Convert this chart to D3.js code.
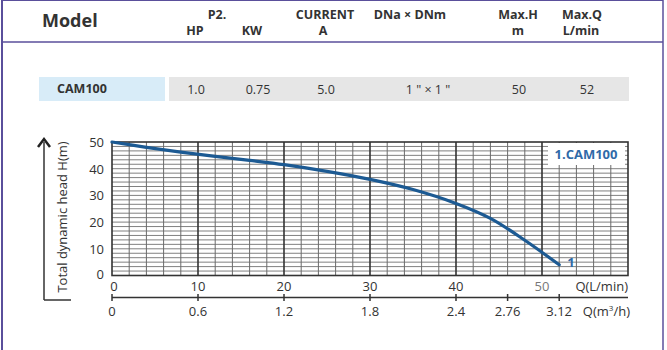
<!DOCTYPE html>
<html><head><meta charset="utf-8">
<script src="https://cdn.jsdelivr.net/npm/d3@7"></script>
<style>
html,body{margin:0;padding:0;background:#fff;}
svg{display:block;font-family:"Open Sans","Noto Sans",sans-serif;}
</style></head>
<body>
<svg id="c" width="667" height="350"></svg>
<script>
// ---- data ----
const headerTop = ["P2.", "CURRENT", "DNa × DNm", "Max.H", "Max.Q"];
const headerSub = ["HP", "KW", "A", "m", "L/min"];
const modelName = "CAM100";
const specValues = ["1.0", "0.75", "5.0", "1 \" × 1 \"", "50", "52"];
const flowLmin = [0, 4, 8, 12, 16, 20, 25, 30, 35, 40, 44, 48, 52];
const headM   = [50, 48.0, 46.2, 44.6, 43.1, 41.5, 39.0, 36.0, 32.2, 27.0, 21.4, 13.2, 4];
const xTicks = [0, 10, 20, 30, 40, 50];
const yTicks = [0, 10, 20, 30, 40, 50];
const m3hTicks = [0, 0.6, 1.2, 1.8, 2.4, 2.76, 3.12];
const seriesLabel = "1";
const legendLabel = "1.CAM100";

const svg = d3.select("#c");
const txt = "#333";
const frame = "#5a4f9b";

// frame borders
svg.append("line").attr("x1",2).attr("x2",2).attr("y1",0).attr("y2",350).attr("stroke",frame).attr("stroke-width",2);
svg.append("line").attr("x1",663).attr("x2",663).attr("y1",0).attr("y2",350).attr("stroke",frame).attr("stroke-width",1.5);
svg.append("line").attr("x1",2).attr("x2",663).attr("y1",0.5).attr("y2",0.5).attr("stroke",frame).attr("stroke-width",1);
svg.append("line").attr("x1",2).attr("x2",663).attr("y1",42).attr("y2",42).attr("stroke",frame).attr("stroke-width",1.5);

// header
svg.append("text").attr("x",42).attr("y",27).attr("font-size",18).attr("font-weight",700).attr("fill",txt).text("Model");
const topX = [217, 325, 410, 518, 582];
const subX = [195, 252, 323, 518, 581];
headerTop.forEach((t,i)=>svg.append("text").attr("x",topX[i]).attr("y",19).attr("text-anchor","middle")
  .attr("font-size",12.5).attr("font-weight",700).attr("fill",txt).text(t));
headerSub.forEach((t,i)=>svg.append("text").attr("x",subX[i]).attr("y",35).attr("text-anchor","middle")
  .attr("font-size",12.5).attr("font-weight",700).attr("fill",txt).text(t));

// spec row
svg.append("rect").attr("x",39).attr("y",77).attr("width",126).attr("height",24).attr("fill","#d8ecf8");
svg.append("rect").attr("x",169).attr("y",77).attr("width",460).attr("height",24).attr("fill","#e6e6e6");
svg.append("text").attr("x",57).attr("y",93).attr("font-size",12.5).attr("font-weight",700).attr("fill",txt).text(modelName);
const valX = [196, 258, 326, 428, 519, 587];
specValues.forEach((t,i)=>svg.append("text").attr("x",valX[i]).attr("y",94).attr("text-anchor","middle")
  .attr("font-size",12.5).attr("fill",txt).text(t));

// chart
const x = d3.scaleLinear().domain([0,60]).range([112,628]);
const y = d3.scaleLinear().domain([0,50]).range([275.5,142]);

const g = svg.append("g");
// horizontal grid
d3.range(1,30).forEach(i=>{
  const v = i*50/30;
  g.append("line").attr("x1",x(0)).attr("x2",x(60)).attr("y1",y(v)).attr("y2",y(v))
    .attr("stroke","#808080").attr("stroke-width",1);
});
// vertical grid
d3.range(2,60,2).forEach(v=>{
  const major = v%10===0;
  g.append("line").attr("x1",x(v)).attr("x2",x(v)).attr("y1",y(50)).attr("y2",y(0))
    .attr("stroke",major?"#333":"#6a6a6a").attr("stroke-width",major?1.6:1);
});
g.append("rect").attr("x",x(0)).attr("y",y(50)).attr("width",x(60)-x(0)).attr("height",y(0)-y(50))
  .attr("fill","none").attr("stroke","#333").attr("stroke-width",1.6);

// legend box
svg.append("rect").attr("x",548).attr("y",143).attr("width",77).attr("height",22).attr("fill","#fff");
svg.append("text").attr("x",586).attr("y",159).attr("text-anchor","middle").attr("font-size",13)
  .attr("font-weight",700).attr("fill","#2f6aa8").text(legendLabel);

// curve
const line = d3.line().x((d,i)=>x(flowLmin[i])).y(d=>y(d)).curve(d3.curveCatmullRom);
svg.append("path").attr("d",line(headM)).attr("fill","none").attr("stroke","#1c5a93").attr("stroke-width",3.2)
  .attr("stroke-linecap","round");
svg.append("text").attr("x",x(flowLmin[flowLmin.length-1])+8).attr("y",y(headM[headM.length-1])+2)
  .attr("font-size",13).attr("font-weight",700).attr("fill","#2f6aa8").text(seriesLabel);

// y ticks
yTicks.forEach(v=>{
  svg.append("text").attr("x",104).attr("y",v===0?y(v)+3:y(v)+5).attr("text-anchor","end")
    .attr("font-size",13).attr("fill",txt).text(v);
});
// x ticks L/min
xTicks.forEach(v=>{
  svg.append("text").attr("x",x(v)+(v===0?2:0)).attr("y",291).attr("text-anchor","middle")
    .attr("font-size",13).attr("fill",v===50?"#777":txt).text(v);
});
svg.append("text").attr("x",628).attr("y",291).attr("text-anchor","end").attr("font-size",13).attr("fill",txt).text("Q(L/min)");

// m3/h axis
const x2 = d3.scaleLinear().domain([0,3.6]).range([112,628]);
svg.append("line").attr("x1",112).attr("x2",628).attr("y1",297.5).attr("y2",297.5).attr("stroke","#333").attr("stroke-width",1.5);
m3hTicks.forEach(v=>{
  svg.append("line").attr("x1",x2(v)).attr("x2",x2(v)).attr("y1",294).attr("y2",301).attr("stroke","#333").attr("stroke-width",1.5);
  svg.append("text").attr("x",x2(v)).attr("y",316).attr("text-anchor","middle").attr("font-size",13).attr("fill",txt).text(v);
});
const qt = svg.append("text").attr("x",630).attr("y",316).attr("text-anchor","end").attr("font-size",13).attr("fill",txt);
qt.append("tspan").text("Q(m");
qt.append("tspan").attr("dy",-5).attr("font-size",8).text("3");
qt.append("tspan").attr("dy",5).text("/h)");

// y axis label with bracket arrow
svg.append("path").attr("d","M44,300 L44,142").attr("stroke","#333").attr("stroke-width",1.5).attr("fill","none");
svg.append("path").attr("d","M44,300 L71,300").attr("stroke","#333").attr("stroke-width",1.5).attr("fill","none");
svg.append("path").attr("d","M38,147 L44,139 L50,147").attr("stroke","#222").attr("stroke-width",2.5).attr("fill","none");
svg.append("text").attr("transform","translate(67,217) rotate(-90)").attr("text-anchor","middle")
  .attr("font-size",13).attr("fill",txt).text("Total dynamic head H(m)");
</script>
</body></html>
